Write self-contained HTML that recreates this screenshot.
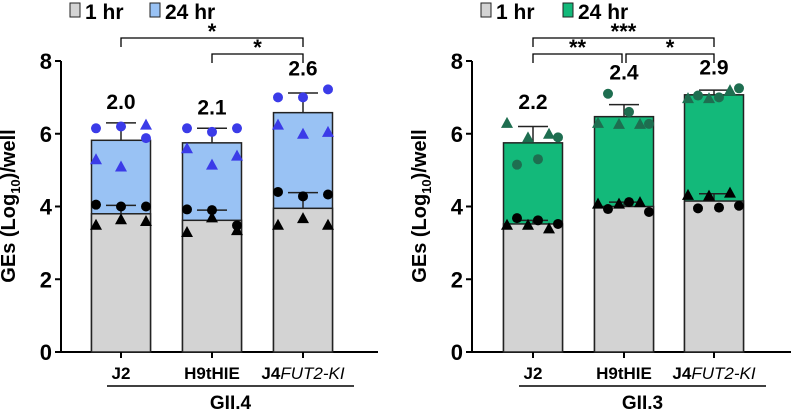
<!DOCTYPE html>
<html><head><meta charset="utf-8"><style>
body{margin:0;background:#fff;}
svg{display:block;font-family:"Liberation Sans",Arial,sans-serif;font-weight:bold;}
</style></head><body>
<svg id="c" width="791" height="412" viewBox="0 0 791 412"></svg>
<script>
const categories = ["J2","H9tHIE","J4FUT2-KI"];
const yTicks = [0,2,4,6,8];
// GII.4 panel
const g4Hr1Mean = [3.8,3.62,3.95];
const g4Hr1Err = [4.03,3.9,4.38];
const g4Hr24Mean = [5.82,5.75,6.58];
const g4Hr24Err = [6.3,6.15,7.12];
const g4Hr1Circles = [[4.05,4.0,4.0],[3.92,3.9,3.48],[4.4,4.28,4.33]];
const g4Hr1Tris = [[3.5,3.65,3.6],[3.3,3.7,3.35],[3.5,3.68,3.5]];
const g4Hr24Circles = [[6.15,6.2,5.88],[6.15,6.05,6.15],[7.0,7.0,7.22]];
const g4Hr24Tris = [[5.3,5.1,6.25],[5.6,5.15,5.4],[6.25,6.0,6.05]];
const g4Fold = ["2.0","2.1","2.6"];
// GII.3 panel
const g3Hr1Mean = [3.52,4.0,4.15];
const g3Hr1Err = [3.62,4.12,4.35];
const g3Hr24Mean = [5.75,6.47,7.07];
const g3Hr24Err = [6.2,6.8,7.2];
const g3Hr1Circles = [[3.68,3.62,3.52],[3.93,4.12,3.85],[3.95,3.97,4.02]];
const g3Hr1Tris = [[3.5,3.5,3.4],[4.08,4.08,4.12],[4.32,4.3,4.38]];
const g3Hr24Circles = [[5.15,5.3,5.9],[7.1,6.6,6.27],[7.05,7.0,7.25]];
const g3Hr24Tris = [[6.3,5.9,6.0],[6.3,6.27,6.27],[6.98,6.98,7.2]];
const g3Fold = ["2.2","2.4","2.9"];

const NS="http://www.w3.org/2000/svg";
const svg=document.getElementById('c');
function mk(tag,attrs,parent,text){const e=document.createElementNS(NS,tag);for(const k in attrs)e.setAttribute(k,attrs[k]);if(text!==undefined)e.textContent=text;(parent||svg).appendChild(e);return e;}

function panel(o){
  const y=v=>352-v*(291/8);
  const x=i=>o.centers[i];
  const g=mk('g',{});
  
  
  const ax=mk('line',{x1:o.ax,y1:61,x2:o.ax,y2:353,stroke:'#000','stroke-width':2},g);
  
  const xa=mk('line',{x1:o.ax,y1:352,x2:o.xEnd,y2:352,stroke:'#000','stroke-width':2},g);
  
  yTicks.forEach(t=>{
    mk('line',{x1:o.ax-6,y1:y(t),x2:o.ax,y2:y(t),stroke:'#000','stroke-width':2},g);
    const tl=mk('text',{x:o.ax-9,y:y(t)+8,'text-anchor':'end','font-size':22},g,String(t));
    
  });
  const yl=mk('text',{x:0,y:0,transform:`translate(${o.ax-46},206) rotate(-90)`,'text-anchor':'middle','font-size':20},g);
  
  yl.innerHTML='GEs (Log<tspan font-size="13" dy="5">10</tspan><tspan dy="-5">)/well</tspan>';
  categories.forEach((c,i)=>{
    const cx=x(i);
    const b24=mk('rect',{x:cx-29.5,y:y(o.m24[i]),width:59,height:352-y(o.m24[i]),fill:o.col,stroke:'#222','stroke-width':1.5},g);
    
    const b1=mk('rect',{x:cx-29.5,y:y(o.m1[i]),width:59,height:352-y(o.m1[i]),fill:'#d3d3d3',stroke:'#222','stroke-width':1.5},g);
    
    [[o.m24,o.e24],[o.m1,o.e1]].forEach(([m,e])=>{
      mk('line',{x1:cx,y1:y(m[i]),x2:cx,y2:y(e[i]),stroke:'#222','stroke-width':1.5},g);
      mk('line',{x1:cx-15,y1:y(e[i]),x2:cx+15,y2:y(e[i]),stroke:'#222','stroke-width':1.5},g);
    });
    const offs=o.offs;
    function pts(circ,tris,col){
      circ[i].forEach((v,k)=>{const p=mk('circle',{cx:cx+offs.c[k],cy:y(v),r:5,fill:col},g);
        });
      tris[i].forEach((v,k)=>{const px=cx+offs.t[k],py=y(v);
        const p=mk('polygon',{points:`${px},${py-6} ${px-6},${py+5} ${px+6},${py+5}`,fill:col},g);
        });
    }
    pts(o.c24,o.t24,o.pcol);
    pts(o.c1,o.t1,'#000');
    mk('line',{x1:cx,y1:352,x2:cx,y2:358,stroke:'#000','stroke-width':2},g);
    const mx=Math.max(o.e24[i],...o.c24[i],...o.t24[i]);
    const fl=mk('text',{x:cx,y:y(mx)-14,'text-anchor':'middle','font-size':21},g,o.fold[i]);
    
    const xl=mk('text',{x:cx,y:379,'text-anchor':'middle','font-size':17},g);
    
    if(c==="J4FUT2-KI"){xl.innerHTML='J4<tspan font-style="italic" font-weight="normal">FUT2-KI</tspan>';}else xl.textContent=c;
  });
  mk('line',{x1:o.ul[0],y1:386,x2:o.ul[1],y2:386,stroke:'#000','stroke-width':1.5},g);
  const gl=mk('text',{x:(o.ul[0]+o.ul[1])/2,y:409,'text-anchor':'middle','font-size':19},g,o.group);
  
  o.br.forEach(b=>{
    const x1=x(b[0])+(b[4]||0),x2=x(b[1])+(b[5]||0);
    mk('path',{d:`M${x1},${b[2]+9} V${b[2]} H${x2} V${b[2]+9}`,fill:'none',stroke:'#000','stroke-width':1.3},g);
    const s=mk('text',{x:(x1+x2)/2,y:b[2]+1,'text-anchor':'middle','font-size':22},g,b[3]);
    
  });
  const L=o.leg;
  const r1=mk('rect',{x:L[0],y:3,width:10,height:14,fill:'#d3d3d3',stroke:'#222','stroke-width':1},g);
  
  const t1=mk('text',{x:L[0]+15,y:19,'font-size':21},g,'1 hr');
  
  const r2=mk('rect',{x:L[1],y:3,width:10,height:14,fill:o.col,stroke:'#222','stroke-width':1},g);
  
  const t2=mk('text',{x:L[1]+15,y:19,'font-size':21},g,'24 hr');
  
}
panel({name:'panel-gii4',ax:61,xEnd:378,centers:[121,212,303],col:'#99c2f4',pcol:'#3b3be8',
  m1:g4Hr1Mean,e1:g4Hr1Err,m24:g4Hr24Mean,e24:g4Hr24Err,c1:g4Hr1Circles,t1:g4Hr1Tris,c24:g4Hr24Circles,t24:g4Hr24Tris,
  fold:g4Fold,offs:{c:[-25,0,25],t:[-25,0,25]},ul:[107,354],group:'GII.4',
  br:[[0,2,38,'*'],[1,2,54,'*']],leg:[70,150]});
panel({name:'panel-gii3',ax:472,xEnd:791,centers:[533,624,714],col:'#13b97a',pcol:'#1e6e50',
  m1:g3Hr1Mean,e1:g3Hr1Err,m24:g3Hr24Mean,e24:g3Hr24Err,c1:g3Hr1Circles,t1:g3Hr1Tris,c24:g3Hr24Circles,t24:g3Hr24Tris,
  fold:g3Fold,offs:{c:[-16,5,25],t:[-26,-5,16]},ul:[519,766],group:'GII.3',
  br:[[0,2,38,'***'],[0,1,54,'**',0,-2],[1,2,54,'*',2,0]],leg:[481,563]});
</script>
</body></html>
